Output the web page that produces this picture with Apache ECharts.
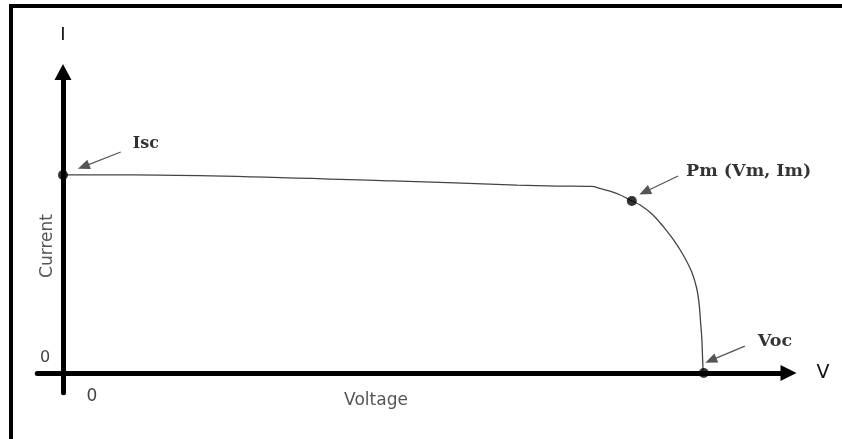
<!DOCTYPE html>
<html>
<head>
<meta charset="utf-8">
<script src="https://cdn.jsdelivr.net/npm/echarts@6/dist/echarts.min.js"></script>
<style>html,body{margin:0;padding:0;background:#fff}#c{width:842px;height:439px}</style>
</head>
<body>
<div id="c"></div>
<script>
// I-V curve (normalised units: Voc = 100, Isc = 100)
var voltage = [0, 10.9, 51.4, 70.7, 76.9, 82.4, 83.6, 85.2, 86.8, 88.6, 89.9, 91.9, 93.5, 95.1, 96.6, 97.9, 98.7, 99.1, 99.3, 99.5, 99.6, 99.7, 99.8];
var current = [100, 100, 97.0, 94.9, 94.4, 94.2, 93.2, 91.8, 89.9, 86.9, 84.8, 79.8, 73.9, 67.2, 59.6, 51.2, 42.8, 34.3, 25.9, 17.5, 9.1, 1.5, 0];
// key points: Isc, Pm, Voc
var keyNames = ['Isc', 'Pm (Vm, Im)', 'Voc'];
var keyV = [0, 88.6, 99.8];
var keyI = [100, 86.9, 0];
// annotation label anchors and arrow tails / tips
var labelV = [12.9, 106.8, 110.9];
var labelI = [115.7, 102.0, 15.7];
var arrowTailV = [9.0, 95.8, 106.2];
var arrowTailI = [111.6, 99.5, 13.6];
var arrowTipV = [3.2, 90.6, 100.9];
var arrowTipI = [104.2, 91.4, 6.4];
var axisNames = {x: 'V', y: 'I'};
var axisTitles = {x: 'Voltage', y: 'Current'};

var chart = echarts.init(document.getElementById('c'), null, {renderer: 'canvas'});
var curve = voltage.map(function (v, i) { return [v, current[i]]; });
var keyPts = keyV.map(function (v, i) { return [v, keyI[i]]; });
var labels = keyNames.map(function (n, i) {
  return {name: n, value: [labelV[i], labelI[i]], label: {fontSize: i === 0 ? 16 : 17.5}};
});
var arrows = keyNames.map(function (n, i) {
  return [{coord: [arrowTailV[i], arrowTailI[i]]}, {coord: [arrowTipV[i], arrowTipI[i]]}];
});

var option = {
  animation: false,
  backgroundColor: '#fff',
  grid: {left: 37.3, width: 751.2, top: 72.0, height: 320.8, containLabel: false},
  xAxis: {
    type: 'value', min: -4, max: 113,
    name: axisNames.x, nameLocation: 'end', nameGap: 28,
    nameTextStyle: {fontFamily: 'DejaVu Sans', fontSize: 19, color: '#111', verticalAlign: 'middle', padding: [0, 0, 4, 0]},
    axisLine: {onZero: true, symbol: ['none', 'triangle'], symbolSize: [16, 16],
      lineStyle: {color: '#000', width: 5, cap: 'round'}},
    axisTick: {show: false}, axisLabel: {show: false}, splitLine: {show: false}
  },
  yAxis: {
    type: 'value', min: -10, max: 152,
    name: axisNames.y, nameLocation: 'end', nameGap: 28,
    nameTextStyle: {fontFamily: 'DejaVu Sans', fontSize: 18, color: '#111', align: 'center'},
    axisLine: {onZero: true, symbol: ['none', 'triangle'], symbolSize: [17, 16],
      lineStyle: {color: '#000', width: 5, cap: 'round'}},
    axisTick: {show: false}, axisLabel: {show: false}, splitLine: {show: false}
  },
  series: [
    {
      type: 'line', data: curve, smooth: 0.3, showSymbol: false,
      lineStyle: {color: '#444', width: 1.3}, z: 3,
      markLine: {
        silent: true, symbol: ['none', 'triangle'], symbolSize: [10, 12],
        label: {show: false},
        lineStyle: {color: '#555', width: 1.3, type: 'solid'},
        data: arrows
      }
    },
    {
      type: 'scatter', data: keyPts, symbol: 'circle', symbolSize: 10,
      itemStyle: {color: '#000'}, z: 5
    },
    {
      type: 'scatter', data: labels, symbolSize: 0, z: 6,
      label: {show: true, position: 'inside', formatter: '{b}',
        fontFamily: 'DejaVu Serif', fontWeight: 'bold', fontSize: 17, color: '#000'}
    }
  ],
  graphic: [
    {type: 'line', shape: {x1: 9, y1: 6, x2: 842, y2: 6}, style: {stroke: '#000', lineWidth: 4}},
    {type: 'line', shape: {x1: 11, y1: 4, x2: 11, y2: 439}, style: {stroke: '#000', lineWidth: 4}},
    {type: 'text', x: 48, y: 246, rotation: Math.PI / 2, style: {text: axisTitles.y, font: '17px "DejaVu Sans"', fill: '#555', textAlign: 'center', textVerticalAlign: 'middle'}},
    {type: 'text', x: 376, y: 401, style: {text: axisTitles.x, font: '17px "DejaVu Sans"', fill: '#555', textAlign: 'center', textVerticalAlign: 'middle'}},
    {type: 'text', x: 45, y: 358, style: {text: '0', font: '16px "DejaVu Sans"', fill: '#444', textAlign: 'center', textVerticalAlign: 'middle'}},
    {type: 'text', x: 92, y: 397, style: {text: '0', font: '17px "DejaVu Sans"', fill: '#444', textAlign: 'center', textVerticalAlign: 'middle'}}
  ]
};
chart.setOption(option);
</script>
</body>
</html>
